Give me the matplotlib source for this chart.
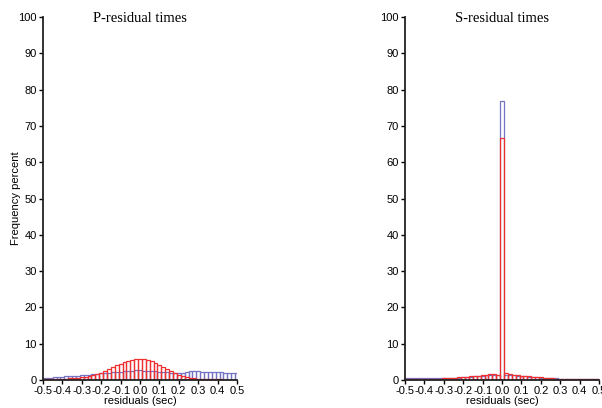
#!/usr/bin/env python3
"""
P- and S-residual time histograms (frequency percent), two catalogues overlaid.
"""

import numpy as np
import matplotlib.pyplot as plt

# bin centres: -0.50 .. 0.50, width 0.02
bin_centers = np.round(np.arange(-0.50, 0.5001, 0.02), 2)
bin_width = 0.02

p_red = [0.2, 0.2, 0.25, 0.3, 0.3, 0.35, 0.4, 0.45, 0.5, 0.6,
         0.7, 0.85, 1.0, 1.3, 1.6, 2.0, 2.5, 3.0, 3.5, 4.0,
         4.5, 5.0, 5.3, 5.5, 5.8, 5.9, 5.8, 5.5, 5.1, 4.7,
         4.2, 3.7, 3.1, 2.5, 2.0, 1.5, 1.1, 0.8, 0.6, 0.45,
         0.35, 0.3, 0.25, 0.2, 0.2, 0.15, 0.15, 0.1, 0.1, 0.1, 0.1]
p_blue = [0.5, 0.55, 0.6, 0.7, 0.8, 0.9, 1.0, 1.05, 1.1, 1.2,
          1.3, 1.4, 1.5, 1.6, 1.7, 1.8, 1.9, 2.0, 2.1, 2.2,
          2.3, 2.35, 2.4, 2.6, 2.7, 2.7, 2.6, 2.5, 2.45, 2.4,
          2.3, 2.2, 2.1, 2.0, 2.0, 1.9, 1.9, 2.2, 2.4, 2.4,
          2.4, 2.3, 2.3, 2.3, 2.2, 2.2, 2.1, 2.0, 1.9, 1.8, 1.8]

s_red = [0.2, 0.2, 0.25, 0.25, 0.3, 0.3, 0.3, 0.35, 0.4, 0.4,
         0.45, 0.5, 0.55, 0.6, 0.7, 0.8, 0.9, 1.0, 1.1, 1.2,
         1.3, 1.5, 1.7, 1.7, 1.5, 66.8, 1.8, 1.7, 1.5, 1.3,
         1.2, 1.1, 1.0, 0.9, 0.8, 0.7, 0.6, 0.5, 0.45, 0.4,
         0.35, 0.3, 0.3, 0.25, 0.25, 0.2, 0.2, 0.2, 0.15, 0.15, 0.15]
s_blue = [0.5, 0.5, 0.55, 0.55, 0.5, 0.5, 0.5, 0.5, 0.45, 0.45,
          0.45, 0.5, 0.5, 0.55, 0.6, 0.7, 0.8, 0.9, 1.0, 1.1,
          1.2, 1.3, 1.4, 1.4, 1.3, 77.0, 1.5, 1.4, 1.3, 1.2,
          1.1, 1.0, 0.9, 0.8, 0.7, 0.6, 0.55, 0.5, 0.45, 0.45,
          0.4, 0.4, 0.4, 0.4, 0.35, 0.35, 0.35, 0.35, 0.3, 0.3, 0.3]

titles = ['P-residual times', 'S-residual times']
x_ticks = [-0.5, -0.4, -0.3, -0.2, -0.1, 0.0, 0.1, 0.2, 0.3, 0.4, 0.5]
x_labels = ['-0.5', '-0.4', '-0.3', '-0.2', '-0.1', '0.0', '0.1', '0.2', '0.3', '0.4', '0.5']
y_ticks = np.arange(0, 101, 10)

RED = '#f03030'
BLUE = '#7474c4'

plt.rcParams['font.family'] = ['Liberation Sans', 'DejaVu Sans']

fig = plt.figure(figsize=(6.02, 4.08), dpi=100)
axes = [fig.add_axes([0.0714, 0.0686, 0.3223, 0.8897]),
        fig.add_axes([0.6728, 0.0686, 0.3223, 0.8897])]

for ax, title, blue, red in zip(axes, titles, [p_blue, s_blue], [p_red, s_red]):
    ax.bar(bin_centers, blue, width=bin_width, fill=False, edgecolor=BLUE, linewidth=0.9)
    ax.bar(bin_centers, red, width=bin_width, fill=False, edgecolor=RED, linewidth=0.9)

    ax.set_xlim(-0.5, 0.5)
    ax.set_ylim(0, 100)
    ax.set_xticks(x_ticks)
    ax.set_xticklabels(x_labels)
    ax.set_yticks(y_ticks)
    for side in ['top', 'right']:
        ax.spines[side].set_visible(False)
    for side in ['left', 'bottom']:
        ax.spines[side].set_linewidth(1.3)
        ax.spines[side].set_color('#222222')
    ax.tick_params(direction='out', length=3, width=1, labelsize=8, pad=1.5)
    ax.set_xlabel('residuals (sec)', fontsize=8, labelpad=0)
    ax.text(0.5, 0.995, title, transform=ax.transAxes, ha='center', va='center',
            fontsize=10.5, family='Liberation Serif')

# y label sits well left of the tick labels, as in the original
fig.text(0.027, 0.0686 + 0.8897 / 2, 'Frequency percent', rotation=90,
         ha='center', va='center', fontsize=8)

fig.savefig('out.png', dpi=100)
